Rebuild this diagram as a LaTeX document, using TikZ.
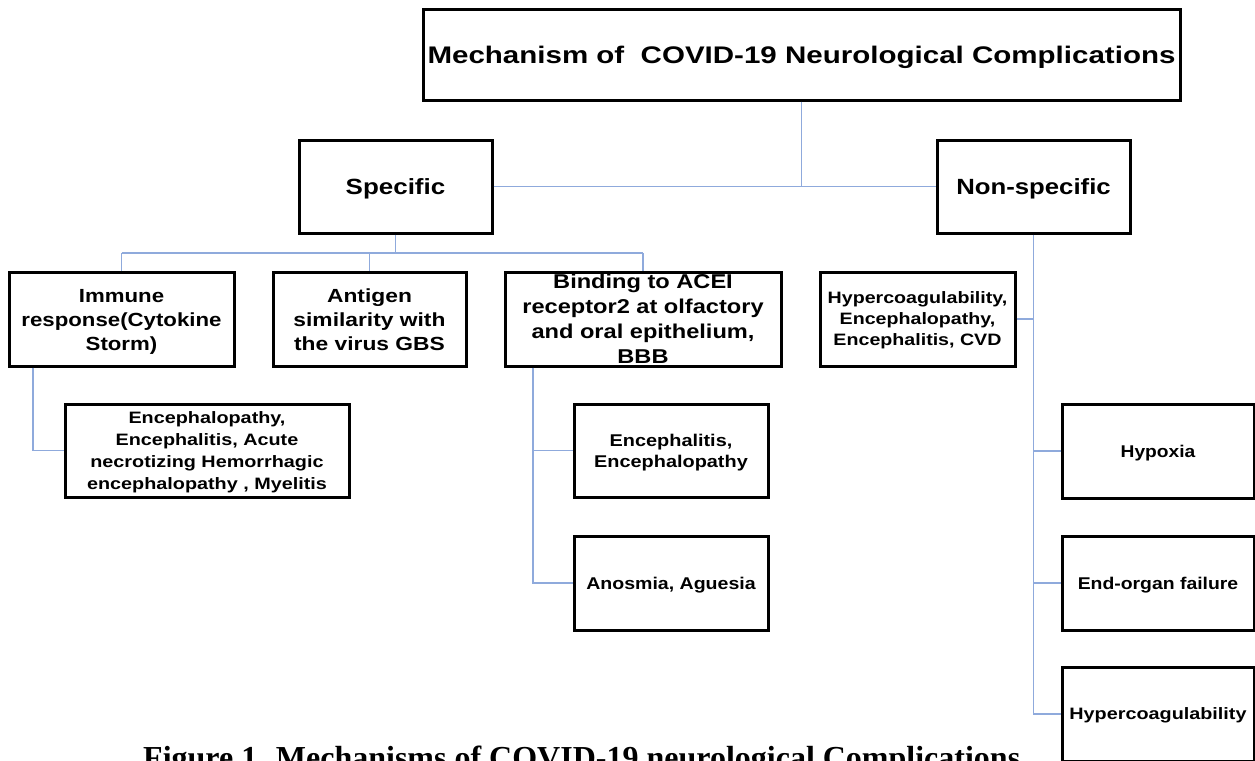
\documentclass[tikz,border=0pt]{standalone}
\usepackage{fontspec}
\setmainfont{Liberation Serif}
\setsansfont{Liberation Sans}
\usepackage{graphicx}
\definecolor{connblue}{HTML}{8FAADC}
\newcommand\lab[2]{\smash{\raisebox{-0.36em}{\scalebox{#1}[1]{\begin{tabular}{@{}c@{}}#2\end{tabular}}}}}
\newcommand\fsz[2]{\sffamily\bfseries\fontsize{#1}{#2}\selectfont}
\begin{document}
\begin{tikzpicture}[x=1pt,y=-1pt,
  box/.style={draw=black,line width=3pt,fill=white,inner sep=0pt,align=center},
  conn/.style={draw=connblue,line width=1.4pt}]
\useasboundingbox (0,0) rectangle (1255,760);
% boxes
\node[box,minimum width=757pt,minimum height=90pt,font=\fsz{24}{29}] (title) at (801.5,55)
  {\lab{1.23}{Mechanism of\ \ COVID-19 Neurological Complications}};
\node[box,minimum width=193pt,minimum height=93pt,font=\fsz{22}{27}] (spec) at (395.5,186.5)
  {\lab{1.18}{Specific}};
\node[box,minimum width=193pt,minimum height=93pt,font=\fsz{22}{27}] (nonspec) at (1033.5,186.5)
  {\lab{1.17}{Non-specific}};
\node[box,minimum width=225pt,minimum height=94pt,font=\fsz{19}{24}] (immune) at (121.5,319)
  {\lab{1.17}{Immune\\response(Cytokine\\Storm)}};
\node[box,minimum width=193pt,minimum height=94pt,font=\fsz{19}{24}] (antigen) at (369.5,319)
  {\lab{1.2}{Antigen\\similarity with\\the virus GBS}};
\node[box,minimum width=276pt,minimum height=94pt,font=\fsz{20}{25}] (binding) at (643,319)
  {\lab{1.18}{Binding to ACEI\\receptor2 at olfactory\\and oral epithelium,\\BBB}};
\node[box,minimum width=195pt,minimum height=94pt,font=\fsz{16.5}{21}] (hyper1) at (917.5,319)
  {\lab{1.19}{Hypercoagulability,\\Encephalopathy,\\Encephalitis, CVD}};
\node[box,minimum width=284pt,minimum height=93pt,font=\fsz{16.5}{22}] (encA) at (207,450.5)
  {\lab{1.2}{Encephalopathy,\\Encephalitis, Acute\\necrotizing Hemorrhagic\\encephalopathy , Myelitis}};
\node[box,minimum width=194pt,minimum height=93pt,font=\fsz{17}{21}] (encB) at (671,450.5)
  {\lab{1.17}{Encephalitis,\\Encephalopathy}};
\node[box,minimum width=194pt,minimum height=94pt,font=\fsz{17}{21}] (anosmia) at (671,583)
  {\lab{1.15}{Anosmia, Aguesia}};
\node[box,minimum width=192pt,minimum height=94pt,font=\fsz{17}{21}] (hypoxia) at (1158,451)
  {\lab{1.13}{Hypoxia}};
\node[box,minimum width=192pt,minimum height=94pt,font=\fsz{17}{21}] (endorgan) at (1158,583)
  {\lab{1.14}{End-organ failure}};
\node[box,minimum width=192pt,minimum height=94pt,font=\fsz{16.5}{21}] (hyper2) at (1158,714)
  {\lab{1.2}{Hypercoagulability}};
% caption
\node[anchor=base west,inner sep=0pt,font=\rmfamily\bfseries\fontsize{32}{38}\selectfont] (cap) at (143,768)
  {Figure 1. Mechanisms of COVID-19 neurological Complications};
% connectors
\coordinate (sb) at (0,253);
\coordinate (ix) at (33,0);
\coordinate (bx) at (533,0);
\draw[conn] (title.south) -- (title.south |- spec.east);
\draw[conn] (spec.east) -- (nonspec.west);
\draw[conn] (spec.south) -- (spec.south |- sb);
\draw[conn] (immune.north |- sb) -- (binding.north |- sb);
\draw[conn] (immune.north |- sb) -- (immune.north);
\draw[conn] (antigen.north |- sb) -- (antigen.north);
\draw[conn] (binding.north |- sb) -- (binding.north);
\draw[conn] (ix |- immune.south) -- (ix |- encA.west) -- (encA.west);
\draw[conn] (bx |- binding.south) -- (bx |- anosmia.west) -- (anosmia.west);
\draw[conn] (bx |- encB.west) -- (encB.west);
\draw[conn] (nonspec.south) -- (nonspec.south |- hyper2.west) -- (hyper2.west);
\draw[conn] (hyper1.east) -- (nonspec.south |- hyper1.east);
\draw[conn] (nonspec.south |- hypoxia.west) -- (hypoxia.west);
\draw[conn] (nonspec.south |- endorgan.west) -- (endorgan.west);
\end{tikzpicture}
\end{document}
